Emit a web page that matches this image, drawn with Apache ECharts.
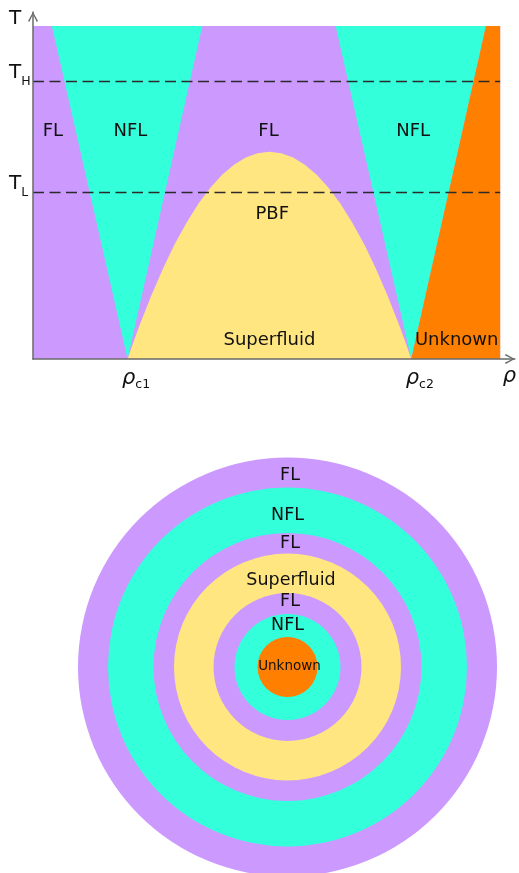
<!DOCTYPE html>
<html>
<head>
<meta charset="utf-8">
<script src="https://cdn.jsdelivr.net/npm/echarts@6/dist/echarts.min.js"></script>
<style>html,body{margin:0;padding:0;background:#fff}#c{width:519px;height:873px}</style>
</head>
<body>
<div id="c"></div>
<script>
// ---------- Top: phase diagram (rho in units of rho_c1, T in units of plot top) ----------
const FL_REGION = [[0, 0], [4.94, 0], [4.94, 1], [0, 1]];
const NFL_LEFT = [[0.2, 1], [1.79, 1], [1.0, 0]];
const NFL_RIGHT = [[3.2, 1], [4.79, 1], [4.0, 0]];
const UNKNOWN_REGION = [[4.79, 1], [4.94, 1], [4.94, 0], [4.0, 0]];
const SUPERFLUID_DOME = [
  [1.0, 0], [1.05, 0.041], [1.125, 0.0995], [1.25, 0.19], [1.375, 0.272], [1.5, 0.346],
  [1.625, 0.41], [1.75, 0.467], [1.875, 0.514], [2.0, 0.553], [2.125, 0.583], [2.25, 0.605],
  [2.375, 0.618], [2.5, 0.622], [2.625, 0.618], [2.75, 0.605], [2.875, 0.583], [3.0, 0.553],
  [3.125, 0.514], [3.25, 0.467], [3.375, 0.41], [3.5, 0.346], [3.625, 0.272], [3.75, 0.19],
  [3.875, 0.0995], [3.95, 0.041], [4.0, 0]
];
const T_H = 0.833;
const T_L = 0.5;
const DASH_END = 4.94;

const regionNames = ['FL', 'NFL', 'NFL', 'Unknown', 'Superfluid'];
const regionShapes = [FL_REGION, NFL_LEFT, NFL_RIGHT, UNKNOWN_REGION, SUPERFLUID_DOME];

const labelTexts = ['FL', 'NFL', 'FL', 'NFL', 'PBF', 'Superfluid', 'Unknown'];
const labelRho = [0.21, 1.03, 2.49, 4.02, 2.53, 2.5, 4.48];
const labelT = [0.685, 0.685, 0.685, 0.685, 0.435, 0.057, 0.057];

const yTickValues = [1.0225, 0.851, 0.518];
const yTickLabels = ['{t|T}', '{a|T}{b|H}', '{a|T}{b|L}'];
const xTickValues = [1, 4, 5.037];
const xTickLabels = ['{p|ρ}{s|c1}', '{p|ρ}{s|c2}', '{q|ρ}'];

// ---------- Bottom: concentric shells ----------
const ringRadii = [209.5, 179.5, 134, 113.5, 74, 53, 30];
const ringPhases = ['FL', 'NFL', 'FL', 'Superfluid', 'FL', 'NFL', 'Unknown'];
const ringLabelTexts = ['FL', 'NFL', 'FL', 'Superfluid', 'FL', 'NFL', 'Unknown'];
const ringLabelY = [192, 152, 124, 87, 65.5, 42, 0.5];
const ringLabelX = [2.5, 0, 2.5, 3.5, 2.5, 0, 2];
const ringLabelSize = [17.5, 17.5, 17.5, 17.5, 17.5, 17.5, 13.5];

const COLORS = { FL: '#CC99FF', NFL: '#33FFDB', Superfluid: '#FFE680', Unknown: '#FF8000' };
const FONT = '"DejaVu Sans", sans-serif';
const INK = '#111111';
const AXIS = '#6a6a6a';
const CHEVRON = 'path://M0,9 L5,0 L10,9 L8.8,10 L5,2.6 L1.2,10 Z';

function pickLabel(values, labels, v) {
  let best = 0, d = Infinity;
  values.forEach((x, i) => { const e = Math.abs(x - v); if (e < d) { d = e; best = i; } });
  return labels[best];
}

const chart = echarts.init(document.getElementById('c'));
chart.setOption({
  backgroundColor: '#ffffff',
  animation: false,
  grid: [
    { left: 33, right: 2, top: 12, height: 347 },
    { left: 67.5, top: 447, width: 440, height: 426 }
  ],
  xAxis: [
    {
      type: 'value', gridIndex: 0, min: 0, max: 5.095, z: 10,
      axisLine: { show: true, lineStyle: { color: AXIS, width: 1.5 },
        symbol: ['none', CHEVRON], symbolSize: [11, 10], symbolOffset: [0, -5] },
      axisTick: { show: false }, splitLine: { show: false },
      axisLabel: {
        show: true, customValues: xTickValues, margin: 7,
        formatter: v => pickLabel(xTickValues, xTickLabels, v),
        rich: {
          p: { fontSize: 21, fontStyle: 'italic', fontFamily: FONT, color: INK, padding: [0, 0, 0, 17], verticalAlign: 'middle' },
          s: { fontSize: 12.5, fontFamily: FONT, color: INK, padding: [12, 0, 0, 0], verticalAlign: 'middle' },
          q: { fontSize: 21, fontStyle: 'italic', fontFamily: FONT, color: INK, verticalAlign: 'middle' }
        }
      }
    },
    { type: 'value', gridIndex: 1, min: -220, max: 220, show: false }
  ],
  yAxis: [
    {
      type: 'value', gridIndex: 0, min: 0, max: 1.042, z: 10,
      axisLine: { show: true, lineStyle: { color: AXIS, width: 1.5 },
        symbol: ['none', CHEVRON], symbolSize: [10, 10], symbolOffset: [0, -5] },
      axisTick: { show: false }, splitLine: { show: false },
      axisLabel: {
        show: true, customValues: yTickValues, margin: 24, align: 'left',
        formatter: v => pickLabel(yTickValues, yTickLabels, v),
        rich: {
          t: { fontSize: 20, fontFamily: FONT, color: INK },
          a: { fontSize: 20, fontFamily: FONT, color: INK, padding: [0, 0, 5, 0], verticalAlign: 'bottom' },
          b: { fontSize: 12.5, fontFamily: FONT, color: INK, verticalAlign: 'bottom' }
        }
      }
    },
    { type: 'value', gridIndex: 1, min: -206, max: 220, show: false }
  ],
  series: [
    {
      type: 'custom', name: 'phases', xAxisIndex: 0, yAxisIndex: 0, silent: true,
      data: regionShapes.map((s, i) => ({ value: s[0], name: regionNames[i] })),
      renderItem: function (params, api) {
        const pts = regionShapes[params.dataIndex].map(p => api.coord(p));
        return { type: 'polygon', shape: { points: pts }, style: { fill: COLORS[regionNames[params.dataIndex]], stroke: null } };
      }
    },
    {
      type: 'line', name: 'T_H', xAxisIndex: 0, yAxisIndex: 0, silent: true, symbol: 'none',
      data: [[0, T_H], [DASH_END, T_H]],
      lineStyle: { color: '#2a2a2a', width: 1.5, type: [11, 5.5] }
    },
    {
      type: 'line', name: 'T_L', xAxisIndex: 0, yAxisIndex: 0, silent: true, symbol: 'none',
      data: [[0, T_L], [DASH_END, T_L]],
      lineStyle: { color: '#2a2a2a', width: 1.5, type: [11, 5.5] }
    },
    {
      type: 'custom', name: 'labels', xAxisIndex: 0, yAxisIndex: 0, silent: true, z: 5,
      data: labelTexts.map((t, i) => ({ value: [labelRho[i], labelT[i]], name: t })),
      renderItem: function (params, api) {
        const p = api.coord([api.value(0), api.value(1)]);
        return { type: 'text', x: p[0], y: p[1], style: {
          text: labelTexts[params.dataIndex], fill: INK, fontSize: 18, fontFamily: FONT,
          align: 'center', verticalAlign: 'middle', textAlign: 'center', textVerticalAlign: 'middle' } };
      }
    },
    {
      type: 'custom', name: 'shells', xAxisIndex: 1, yAxisIndex: 1, silent: true,
      data: ringRadii.map((r, i) => ({ value: [0, 0, r], name: ringPhases[i] })),
      renderItem: function (params, api) {
        const c = api.coord([api.value(0), api.value(1)]);
        const r = api.size([api.value(2), 0])[0];
        return { type: 'circle', shape: { cx: c[0], cy: c[1], r: r }, style: { fill: COLORS[ringPhases[params.dataIndex]], stroke: null } };
      }
    },
    {
      type: 'custom', name: 'shellLabels', xAxisIndex: 1, yAxisIndex: 1, silent: true, z: 5,
      data: ringLabelTexts.map((t, i) => ({ value: [ringLabelX[i], ringLabelY[i]], name: t })),
      renderItem: function (params, api) {
        const p = api.coord([api.value(0), api.value(1)]);
        return { type: 'text', x: p[0], y: p[1], style: {
          text: ringLabelTexts[params.dataIndex], fill: INK, fontSize: ringLabelSize[params.dataIndex], fontFamily: FONT,
          align: 'center', verticalAlign: 'middle', textAlign: 'center', textVerticalAlign: 'middle' } };
      }
    }
  ]
});
</script>
</body>
</html>
